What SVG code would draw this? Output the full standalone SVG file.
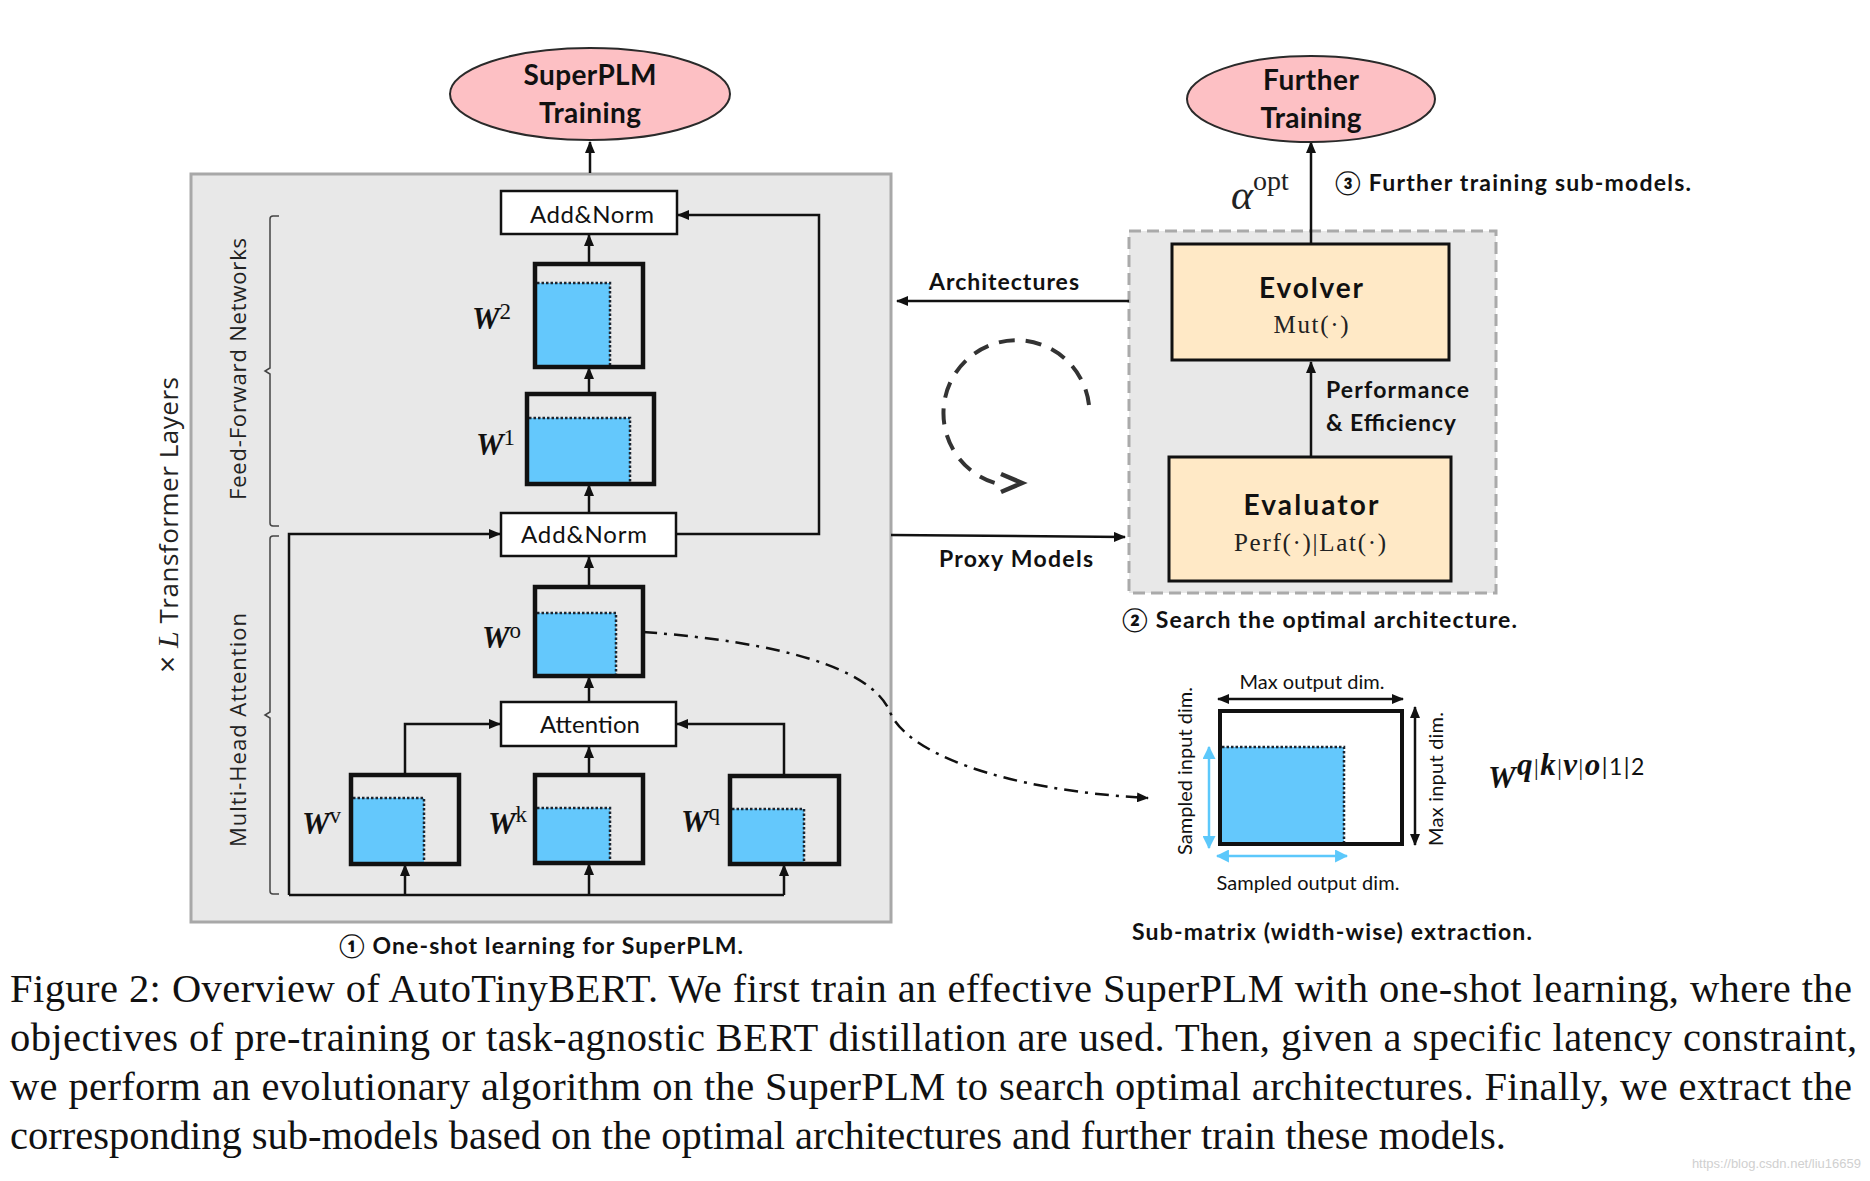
<svg xmlns="http://www.w3.org/2000/svg" width="1870" height="1181" viewBox="0 0 1870 1181">
<defs>
<marker id="ah" viewBox="0 0 12 10" refX="11" refY="5" markerWidth="12" markerHeight="10" markerUnits="userSpaceOnUse" orient="auto-start-reverse"><path d="M0,0 L12,5 L0,10 z" fill="#111"/></marker>
<marker id="ahb" viewBox="0 0 12 12" refX="11" refY="6" markerWidth="13" markerHeight="13" markerUnits="userSpaceOnUse" orient="auto-start-reverse"><path d="M0,0 L12,6 L0,12 z" fill="#5cc8fb"/></marker>
<style>
.lbl{font-family:Lato,'Liberation Sans',sans-serif;fill:#111}
.b{font-weight:700}
.ln{fill:none;stroke:#111;stroke-width:2.5}
.arr{marker-end:url(#ah)}
.box{fill:#fff;stroke:#111;stroke-width:2.5}
.wbox{fill:none;stroke:#111;stroke-width:4.5}
.blue{fill:#64c8fc}
.dot{fill:none;stroke:#1b2530;stroke-width:2.5;stroke-dasharray:2.5 2}
.wm{font-family:'Liberation Serif',serif;font-style:italic;font-weight:700;font-size:31px;fill:#111}
.sup{font-style:normal;font-weight:400;font-size:23px}
.rot{font-family:'Open Sans','DejaVu Sans',sans-serif;fill:#222}
.ser{font-family:'Liberation Serif',serif;fill:#222}
.cap{font-family:'Liberation Serif','Times New Roman',serif;font-size:40.5px;fill:#111}
.ell{fill:#fdc0c4;stroke:#2a2a2a;stroke-width:2}
.peach{fill:#ffe9c6;stroke:#111;stroke-width:3}
.brk{fill:none;stroke:#444;stroke-width:1.5}
</style>
</defs>
<rect width="1870" height="1181" fill="#fff"/>

<!-- containers -->
<g id="supernet-container">
<rect x="191" y="174" width="700" height="748" fill="#e8e8e8" stroke="#a8a8a8" stroke-width="3"/>
<path class="brk" d="M279,216 L273,216 Q270,216 270,219 L270,368 L265,371 L270,374 L270,523 Q270,526 273,526 L279,526"/>
<path class="brk" d="M279,536 L273,536 Q270,536 270,539 L270,712 L265,715 L270,718 L270,891 Q270,894 273,894 L279,894"/>
<text class="rot" font-size="22" transform="translate(246,369) rotate(-90)" text-anchor="middle" textLength="262">Feed-Forward Networks</text>
<text class="rot" font-size="22" transform="translate(246,730) rotate(-90)" text-anchor="middle" textLength="234">Multi-Head Attention</text>
<text class="rot" font-size="26" transform="translate(178,525) rotate(-90)" text-anchor="middle" textLength="296"><tspan font-size="30">×</tspan> <tspan font-family="'Liberation Serif',serif" font-style="italic" font-size="30">L</tspan> Transformer Layers</text>
<text class="lbl b" font-size="23" x="339" y="954" textLength="404">① One-shot learning for SuperPLM.</text>
</g>
<g id="search-container">
<rect x="1129" y="231" width="367" height="362" fill="#e8e8e8" stroke="#aaa" stroke-width="3" stroke-dasharray="12 6"/>
<text class="lbl b" font-size="23" x="1122" y="628" textLength="395">② Search the optimal architecture.</text>
</g>

<!-- connectors -->
<g id="connectors">
<path class="ln arr" d="M590,173 L590,142"/>
<path class="ln arr" d="M589,264 L589,235"/>
<path class="ln arr" d="M589,394 L589,368"/>
<path class="ln arr" d="M589,513 L589,485"/>
<path class="ln arr" d="M589,587 L589,557"/>
<path class="ln arr" d="M589,702 L589,677"/>
<path class="ln arr" d="M589,775 L589,747"/>
<path class="ln arr" d="M405,775 L405,724 L500,724"/>
<path class="ln arr" d="M784,776 L784,724 L677,724"/>
<path class="ln" d="M289,895 L784,895"/>
<path class="ln arr" d="M289,895 L289,534 L500,534"/>
<path class="ln arr" d="M405,895 L405,865"/>
<path class="ln arr" d="M589,895 L589,864"/>
<path class="ln arr" d="M784,895 L784,865"/>
<path class="ln arr" d="M676,534 L819,534 L819,215 L678,215"/>
<path class="ln arr" d="M1129,301 L897,301"/>
<path class="ln arr" d="M891,535 L1125,537"/>
<path class="ln arr" d="M1311,457 L1311,362"/>
<path class="ln arr" d="M1311,244 L1311,142"/>
<path class="ln arr" stroke-dasharray="14 7 3 7" d="M643,632 C780,642 872,668 890,712 C906,752 1000,790 1148,798"/>
<path fill="none" stroke="#333" stroke-width="4" stroke-dasharray="16 11" d="M1089,405 A73,73 0 1 0 1003,485"/>
<path fill="none" stroke="#333" stroke-width="4.5" d="M1001,474 L1022,483 L1001,492"/>
<text class="lbl b" font-size="23" x="929" y="290" textLength="150">Architectures</text>
<text class="lbl b" font-size="23" x="939" y="567" textLength="154">Proxy Models</text>
<text class="lbl b" font-size="23" x="1326" y="398" textLength="143">Performance</text>
<text class="lbl b" font-size="23" x="1326" y="431" textLength="130">&amp; Efficiency</text>
<text class="ser" x="1231" y="209" font-size="42" font-style="italic">α<tspan font-style="normal" font-size="28" dy="-19">opt</tspan></text>
<text class="lbl b" font-size="23" x="1335" y="191" textLength="356">③ Further training sub-models.</text>
</g>

<!-- nodes -->
<g id="superplm-training">
<ellipse class="ell" cx="590" cy="94" rx="140" ry="46"/>
<text class="lbl b" font-size="28" x="590" y="85" text-anchor="middle" textLength="133">SuperPLM</text>
<text class="lbl b" font-size="28" x="590" y="123" text-anchor="middle" textLength="102">Training</text>
</g>
<g id="addnorm-top">
<rect class="box" x="501" y="191" width="176" height="43"/>
<text class="lbl" font-size="24" x="592" y="223" text-anchor="middle" textLength="124">Add&amp;Norm</text>
</g>
<g id="w2">
<rect class="blue" x="537" y="283" width="73" height="82"/>
<polyline class="dot" points="537,283 610,283 610,365"/>
<rect class="wbox" x="535" y="264" width="108" height="103"/>
<text class="wm" x="511" y="329" text-anchor="end">W<tspan class="sup" dy="-10">2</tspan></text>
</g>
<g id="w1">
<rect class="blue" x="529" y="418" width="101" height="64"/>
<polyline class="dot" points="529,418 630,418 630,482"/>
<rect class="wbox" x="527" y="394" width="127" height="90"/>
<text class="wm" x="515" y="455" text-anchor="end">W<tspan class="sup" dy="-10">1</tspan></text>
</g>
<g id="addnorm-mid">
<rect class="box" x="501" y="513" width="175" height="43"/>
<text class="lbl" font-size="24" x="584" y="543" text-anchor="middle" textLength="126">Add&amp;Norm</text>
</g>
<g id="wo">
<rect class="blue" x="537" y="613" width="79" height="61"/>
<polyline class="dot" points="537,613 616,613 616,674"/>
<rect class="wbox" x="535" y="587" width="108" height="89"/>
<text class="wm" x="521" y="648" text-anchor="end">W<tspan class="sup" font-style="italic" font-weight="700" dy="-10">o</tspan></text>
</g>
<g id="attention">
<rect class="box" x="501" y="702" width="175" height="44"/>
<text class="lbl" font-size="24" x="590" y="733" text-anchor="middle" textLength="100">Attention</text>
</g>
<g id="wv">
<rect class="blue" x="353" y="798" width="71" height="64"/>
<polyline class="dot" points="353,798 424,798 424,862"/>
<rect class="wbox" x="351" y="775" width="108" height="89"/>
<text class="wm" x="341" y="834" text-anchor="end">W<tspan class="sup" font-style="italic" font-weight="700" dy="-11">v</tspan></text>
</g>
<g id="wk">
<rect class="blue" x="537" y="808" width="73" height="53"/>
<polyline class="dot" points="537,808 610,808 610,861"/>
<rect class="wbox" x="535" y="775" width="108" height="88"/>
<text class="wm" x="527" y="834" text-anchor="end">W<tspan class="sup" font-style="italic" font-weight="700" dy="-12">k</tspan></text>
</g>
<g id="wq">
<rect class="blue" x="732" y="809" width="72" height="53"/>
<polyline class="dot" points="732,809 804,809 804,862"/>
<rect class="wbox" x="730" y="776" width="109" height="88"/>
<text class="wm" x="720" y="832" text-anchor="end">W<tspan class="sup" font-style="italic" font-weight="700" dy="-12">q</tspan></text>
</g>

<g id="further-training">
<ellipse class="ell" cx="1311" cy="99" rx="124" ry="43"/>
<text class="lbl b" font-size="28" x="1311" y="90" text-anchor="middle" textLength="96">Further</text>
<text class="lbl b" font-size="28" x="1311" y="128" text-anchor="middle" textLength="101">Training</text>
</g>
<g id="evolver">
<rect class="peach" x="1172" y="244" width="277" height="116"/>
<text class="lbl b" font-size="28" x="1311" y="298" text-anchor="middle" textLength="104">Evolver</text>
<text class="ser" font-size="25" x="1311" y="333" text-anchor="middle" textLength="75">Mut(·)</text>
</g>
<g id="evaluator">
<rect class="peach" x="1169" y="457" width="282" height="124"/>
<text class="lbl b" font-size="28" x="1311" y="515" text-anchor="middle" textLength="135">Evaluator</text>
<text class="ser" font-size="25" x="1310" y="551" text-anchor="middle" textLength="152">Perf(·)|Lat(·)</text>
</g>

<g id="submatrix">
<rect x="1220" y="711" width="182" height="133" fill="#fff" stroke="#111" stroke-width="4"/>
<rect class="blue" x="1222" y="747" width="122" height="95"/>
<polyline class="dot" points="1222,747 1344,747 1344,842"/>
<path d="M1218,699 L1403,699" stroke="#111" stroke-width="2.5" marker-start="url(#ah)" marker-end="url(#ah)"/>
<path d="M1415,707 L1415,845" stroke="#111" stroke-width="2.5" marker-start="url(#ah)" marker-end="url(#ah)"/>
<path d="M1209,747 L1209,848" stroke="#5cc8fb" stroke-width="2.5" marker-start="url(#ahb)" marker-end="url(#ahb)"/>
<path d="M1217,856 L1347,856" stroke="#5cc8fb" stroke-width="2.5" marker-start="url(#ahb)" marker-end="url(#ahb)"/>
<text class="lbl" font-size="20" x="1312" y="689" text-anchor="middle" textLength="145">Max output dim.</text>
<text class="lbl" font-size="20" x="1308" y="890" text-anchor="middle" textLength="183">Sampled output dim.</text>
<text class="lbl" font-size="20" transform="translate(1443,779) rotate(-90)" text-anchor="middle" textLength="134">Max input dim.</text>
<text class="lbl" font-size="20" transform="translate(1192,771) rotate(-90)" text-anchor="middle" textLength="168">Sampled input dim.</text>
<text class="wm" font-size="38" x="1488" y="788" letter-spacing="1.5">W<tspan font-size="31" dy="-13">q</tspan><tspan class="sup" font-size="31">|</tspan><tspan font-size="31">k</tspan><tspan class="sup" font-size="31">|</tspan><tspan font-size="31">v</tspan><tspan class="sup" font-size="31">|</tspan><tspan font-size="31">o</tspan><tspan class="sup" font-family="Lato,sans-serif" font-size="29">|1|2</tspan></text>
<text class="lbl b" font-size="23" x="1332" y="940" text-anchor="middle" textLength="400">Sub-matrix (width-wise) extraction.</text>
</g>

<g id="caption">
<text class="cap" x="10" y="1002" textLength="1842" lengthAdjust="spacing">Figure 2: Overview of AutoTinyBERT. We first train an effective SuperPLM with one-shot learning, where the</text>
<text class="cap" x="10" y="1051" textLength="1847" lengthAdjust="spacing">objectives of pre-training or task-agnostic BERT distillation are used. Then, given a specific latency constraint,</text>
<text class="cap" x="10" y="1100" textLength="1842" lengthAdjust="spacing">we perform an evolutionary algorithm on the SuperPLM to search optimal architectures. Finally, we extract the</text>
<text class="cap" x="10" y="1149">corresponding sub-models based on the optimal architectures and further train these models.</text>
<text x="1861" y="1168" text-anchor="end" font-family="'Liberation Sans',sans-serif" font-size="13" fill="#d0d0d0">https://blog.csdn.net/liu16659</text>
</g>
</svg>
